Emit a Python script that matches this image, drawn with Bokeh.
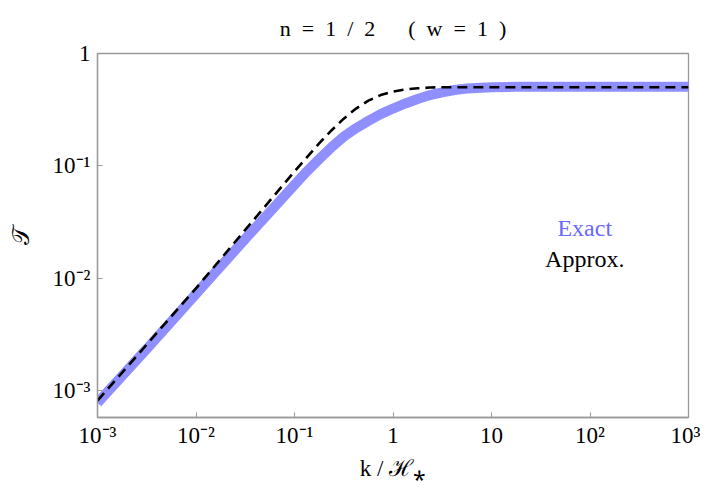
from bokeh.plotting import figure
from bokeh.models import Label, FixedTicker, Title
from bokeh.embed import file_html
from bokeh.resources import INLINE

# ---- data ----
log_k = [-3, -2.5, -2, -1.5, -1.25, -1, -0.875, -0.75, -0.625, -0.5, -0.375, -0.25, -0.125,
         0, 0.125, 0.25, 0.375, 0.5, 0.625, 0.75, 1, 1.25, 1.5, 2, 2.5, 3]
exact_logT = [-3.11, -2.63, -2.14, -1.65, -1.41, -1.17, -1.05, -0.94, -0.835, -0.74, -0.665,
              -0.60, -0.54, -0.49, -0.445, -0.405, -0.37, -0.345, -0.325, -0.312, -0.30,
              -0.297, -0.296, -0.295, -0.295, -0.295]
approx_logT = [-3.09, -2.59, -2.09, -1.57, -1.31, -1.05, -0.925, -0.80, -0.685, -0.58, -0.49,
               -0.42, -0.37, -0.34, -0.32, -0.31, -0.303, -0.30, -0.30, -0.30, -0.30,
               -0.30, -0.30, -0.30, -0.30, -0.30]

x_ticks = [1e-3, 1e-2, 1e-1, 1, 10, 1e2, 1e3]
x_tick_labels = ["10⁻³", "10⁻²", "10⁻¹", "1", "10", "10²", "10³"]
y_ticks = [1e-3, 1e-2, 1e-1, 1]
y_tick_labels = ["10⁻³", "10⁻²", "10⁻¹", "1"]

k = [10 ** v for v in log_k]
T_exact = [10 ** v for v in exact_logT]
T_approx = [10 ** v for v in approx_logT]

FONT = "Liberation Serif"
GRAY = "#999999"

p = figure(width=700, height=491, x_axis_type="log", y_axis_type="log",
           x_range=(1e-3, 1e3), y_range=(10 ** -3.24, 1.0),
           output_backend="svg", toolbar_location=None,
           min_border_left=97, min_border_right=12, min_border_top=53, min_border_bottom=74)

S = "\u2002"
p.title = Title(text=f"n{S}={S}1{S}/{S}2\u2003\u2002({S}w{S}={S}1{S})", align="center",
                text_font=FONT, text_font_size="22px", text_font_style="normal",
                text_color="black", standoff=26)

p.line(k, T_exact, line_color="#8f8fff", line_width=10)
p.line(k, T_approx, line_color="black", line_width=2.6, line_dash="10 6")

p.xgrid.visible = False
p.ygrid.visible = False
p.outline_line_color = GRAY
p.outline_line_width = 1.3

for ax in (p.xaxis[0], p.yaxis[0]):
    ax.axis_line_color = GRAY
    ax.axis_line_width = 1.3
    ax.major_tick_line_color = GRAY
    ax.major_tick_in = 5
    ax.major_tick_out = 0
    ax.minor_tick_line_color = None
    ax.major_label_text_font = FONT
    ax.major_label_text_font_size = "23px"
    ax.major_label_text_color = "black"
    ax.axis_label_text_font = FONT
    ax.axis_label_text_font_style = "normal"
    ax.axis_label_text_color = "black"

p.xaxis.ticker = FixedTicker(ticks=x_ticks)
p.xaxis.major_label_overrides = {t: s for t, s in zip(x_ticks, x_tick_labels)}
p.yaxis.ticker = FixedTicker(ticks=y_ticks)
p.yaxis.major_label_overrides = {t: s for t, s in zip(y_ticks, y_tick_labels)}
p.xaxis.major_label_standoff = 5
p.yaxis.major_label_standoff = 7

p.xaxis.axis_label = "k / ℋ⁎"
p.xaxis.axis_label_text_font_size = "23px"
p.xaxis.axis_label_standoff = 5
p.yaxis.axis_label = "𝒯"
p.yaxis.axis_label_text_font_size = "24px"
p.yaxis.axis_label_standoff = 16

p.add_layout(Label(x=88.5, y=0.0277, text="Exact", text_font=FONT, text_font_size="24px",
                   text_color="#6a6aff", text_align="center", text_baseline="middle"))
p.add_layout(Label(x=88.5, y=0.0147, text="Approx.", text_font=FONT, text_font_size="24px",
                   text_color="black", text_align="center", text_baseline="middle"))

open("out.html", "w").write(file_html(p, INLINE))
